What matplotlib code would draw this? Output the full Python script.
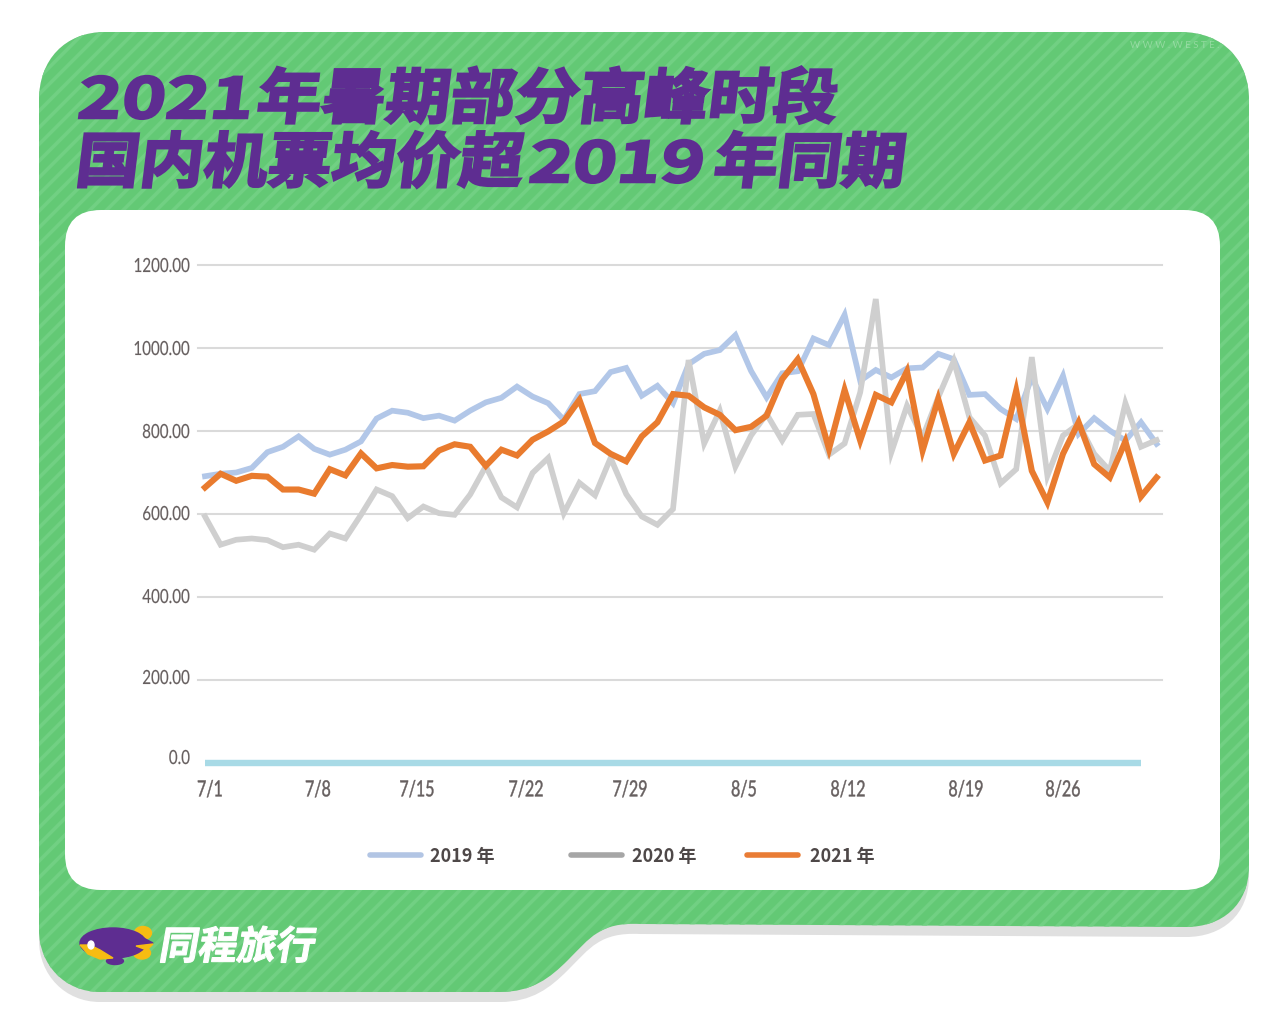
import matplotlib
matplotlib.use("Agg")
import matplotlib.pyplot as plt
import matplotlib.patheffects as pe
from matplotlib.patches import Ellipse, FancyBboxPatch, PathPatch, Polygon
from matplotlib.path import Path
from matplotlib.transforms import Affine2D, ScaledTranslation

# values
days = list(range(62))
y2019 = [691, 697, 700, 711, 749, 762, 787, 757, 743, 755, 775, 830, 849, 844, 831, 837,
         825, 849, 869, 880, 907, 883, 867, 827, 889, 896, 942, 952, 885, 909, 867, 961,
         986, 995, 1031, 945, 881, 939, 944, 1023, 1007, 1080, 921, 947, 929, 951, 953,
         986, 973, 887, 889, 853, 829, 929, 853, 933, 793, 831, 801, 777, 821, 769]
y2020 = [594, 526, 538, 541, 537, 520, 526, 514, 553, 541, 598, 659, 643, 590, 618,
         602, 598, 647, 715, 640, 616, 699, 735, 602, 675, 645, 735, 648, 594, 574, 612,
         971, 770, 849, 714, 789, 841, 777, 839, 841, 743, 770, 893, 1118, 749, 861, 785,
         881, 969, 833, 789, 674, 708, 978, 692, 789, 817, 745, 704, 867, 762, 778]
y2021 = [664, 697, 680, 692, 690, 659, 659, 649, 708, 693, 746, 710, 718, 714, 715, 753,
         768, 762, 716, 755, 741, 779, 799, 823, 875, 771, 745, 727, 787, 821, 889, 885,
         857, 839, 802, 810, 837, 925, 973, 889, 757, 899, 777, 887, 869, 944, 753, 877,
         745, 821, 729, 741, 897, 704, 628, 745, 821, 720, 688, 775, 642, 688]
baseline = [0] * 61

y_ticks = [0, 200, 400, 600, 800, 1000, 1200]
y_labels = ["0.0", "200.00", "400.00", "600.00", "800.00", "1000.00", "1200.00"]
y_label_shift = [6, 3, 1, 1, 0, 0, 0]
x_labels = ["7/1", "7/8", "7/15", "7/22", "7/29", "8/5", "8/12", "8/19", "8/26"]
x_label_px = [210, 318, 417, 526, 630, 744, 848, 966, 1063]

GREEN = "#63C975"
STRIPE = "#71D083"
PURPLE = "#5E2D91"
YELLOW = "#F6BC12"
TEXT = "#665F5F"
CJK = ["Noto Sans CJK SC", "DejaVu Sans"]


class Shaped(pe.AbstractPathEffect):
    # squeeze / lean the glyphs of a normal text artist, optional thicker outline
    def __init__(self, sx=1.0, skew=0.0, stroke=0.0, anchor="left"):
        super().__init__()
        self.sx, self.skew, self.stroke, self.anchor = sx, skew, stroke, anchor

    def draw_path(self, renderer, gc, tpath, affine, rgbFace):
        ext = tpath.get_extents()
        c = {"left": 0.0, "center": (ext.x0 + ext.x1) / 2, "right": ext.x1}[self.anchor]
        t = Affine2D().translate(-c, 0).scale(self.sx, 1).translate(c, 0).skew_deg(self.skew, 0)
        gc0 = renderer.new_gc()
        gc0.copy_properties(gc)
        gc0.set_linewidth(self.stroke)
        gc0.set_foreground(rgbFace)
        gc0.set_joinstyle("miter")
        renderer.draw_path(gc0, tpath, t + affine, rgbFace)
        gc0.restore()


def panel_path(dy=0):
    M, L, C = Path.MOVETO, Path.LINETO, Path.CURVE4
    pts = [(39, 100), (39, 60), (65, 32), (105, 32),
           (1180, 32), (1225, 32), (1249, 62), (1249, 100),
           (1249, 866 + dy), (1249, 905 + dy), (1222, 927 + dy), (1186, 927 + dy),
           (640, 924 + dy), (600, 922 + dy), (590, 938 + dy), (568, 960 + dy),
           (550, 978 + dy), (532, 992 + dy), (500, 992 + dy),
           (100, 992 + dy), (65, 992 + dy), (39, 965 + dy), (39, 930 + dy),
           (39, 100)]
    codes = [M, C, C, C, L, C, C, C, L, C, C, C, L, C, C, C, C, C, C, L, C, C, C, L]
    return Path(pts, codes)


plt.rcParams["font.family"] = CJK
plt.rcParams["hatch.linewidth"] = 2.6

fig = plt.figure(figsize=(12.68, 10.32), dpi=100, facecolor="white")

# page layer in pixel coordinates
bg = fig.add_axes([0, 0, 1, 1])
bg.set_xlim(0, 1268)
bg.set_ylim(1032, 0)
bg.axis("off")
bg.add_patch(PathPatch(panel_path(10), facecolor="#E0E0E0", edgecolor="none"))
bg.add_patch(PathPatch(panel_path(), facecolor=GREEN, edgecolor=STRIPE, linewidth=0, hatch="//"))
bg.add_patch(FancyBboxPatch((65, 210), 1155, 680, boxstyle="round,pad=0,rounding_size=36",
                            facecolor="white", edgecolor="none", zorder=2))

# title, digits are wider and squatter in the reference
title_bits = [(76, 118, "2021", 40, 1.34), (255, 118, "年暑期部分高峰时段", 43, 1.08),
              (74, 182, "国内机票均价超", 43, 1.07), (527, 182, "2019", 40, 1.34),
              (712, 182, "年同期", 43, 1.07)]
for tx, ty, s, fs, sx in title_bits:
    t = bg.text(tx, ty, s, fontsize=fs, fontweight="black", color=PURPLE, va="baseline", zorder=3)
    t.set_path_effects([Shaped(sx=sx, skew=7, stroke=1.8)])

bg.text(1130, 46, "W W W . W E S T E .", fontsize=7, color="white", alpha=0.3, va="center",
        family=["Lato", "DejaVu Sans"], zorder=3)

# logo
bg.add_patch(Ellipse((143, 933), 17, 13, color=YELLOW, zorder=3))
bg.add_patch(Ellipse((142, 953), 17, 12, color=YELLOW, zorder=3))
bg.add_patch(Ellipse((113, 943), 66, 30, color=PURPLE, zorder=4))
bg.add_patch(Polygon([(130, 931), (153, 943), (136, 950), (128, 956)], color=PURPLE, zorder=4))
bg.add_patch(Polygon([(80, 945), (90, 945), (100, 950), (113, 958), (100, 959), (88, 954)],
                     color=YELLOW, zorder=5))
bg.add_patch(Polygon([(136, 946), (153, 944), (147, 950)], color=YELLOW, zorder=5))
bg.add_patch(Ellipse((115, 961), 17, 7, color=PURPLE, zorder=3))
bg.add_patch(Ellipse((91, 945), 6, 8, color="white", zorder=6))
logo = bg.text(158, 959, "同程旅行", fontsize=28, fontweight="bold", color="white", va="baseline", zorder=3)
logo.set_path_effects([Shaped(skew=10, stroke=0.8)])

# legend, spacing is uneven so placed by hand
legend_bits = [(370, 421, 430, "#B2C5E4", "2019 年"), (571, 622, 632, "#A6A6A6", "2020 年"),
               (747, 798, 810, "#E97C35", "2021 年")]
for x0, x1, tx, col, s in legend_bits:
    bg.plot([x0, x1], [855, 855], color=col, lw=4, solid_capstyle="round", zorder=3)
    t = bg.text(tx, 856, s, fontsize=13, fontweight="bold", color="#4E4848", va="center", zorder=3)

# chart
ax = fig.add_axes([198 / 1268, (1032 - 763) / 1032, 964 / 1268, 498 / 1032], facecolor="none")
ax.set_xlim((198 - 205) / 15.6, (1162 - 205) / 15.6)
ax.set_ylim(0, 1200)
ax.plot(days[:61], baseline, color="#A8DAE6", lw=4.6, solid_capstyle="butt", clip_on=False, zorder=3)
ax.plot(days, y2019, color="#B2C7E8", lw=4.1, solid_joinstyle="miter", zorder=4)
ax.plot(days, y2020, color="#CFCFCF", lw=4.1, solid_joinstyle="miter", zorder=5)
ax.plot(days, y2021, color="#E97B2E", lw=4.4, solid_joinstyle="miter", zorder=6)

ax.set_yticks(y_ticks, y_labels)
ax.set_xticks([(p - 205) / 15.6 for p in x_label_px], x_labels)
ax.grid(axis="y", color="#DADADA", lw=1.5)
ax.set_axisbelow(True)
for g in ax.get_ygridlines():
    g.set_clip_on(False)
ax.get_ygridlines()[0].set_visible(False)
ax.tick_params(length=0, labelcolor=TEXT)
ax.tick_params(axis="y", pad=5.5)
ax.tick_params(axis="x", pad=12.5)
for s in ax.spines.values():
    s.set_visible(False)
for lab, dy in zip(ax.get_yticklabels(), y_label_shift):
    lab.set_family(["Lato", "DejaVu Sans"])
    lab.set_fontsize(14)
    lab.set_path_effects([Shaped(sx=0.78, anchor="right", stroke=0.1)])
    lab.set_transform(lab.get_transform() + ScaledTranslation(0, dy / 72 * 0.72, fig.dpi_scale_trans))
for lab in ax.get_xticklabels():
    lab.set_family(["Lato", "DejaVu Sans"])
    lab.set_fontsize(16)
    lab.set_path_effects([Shaped(sx=0.72, anchor="center", stroke=0.3)])

fig.savefig("out.png", dpi=100)
